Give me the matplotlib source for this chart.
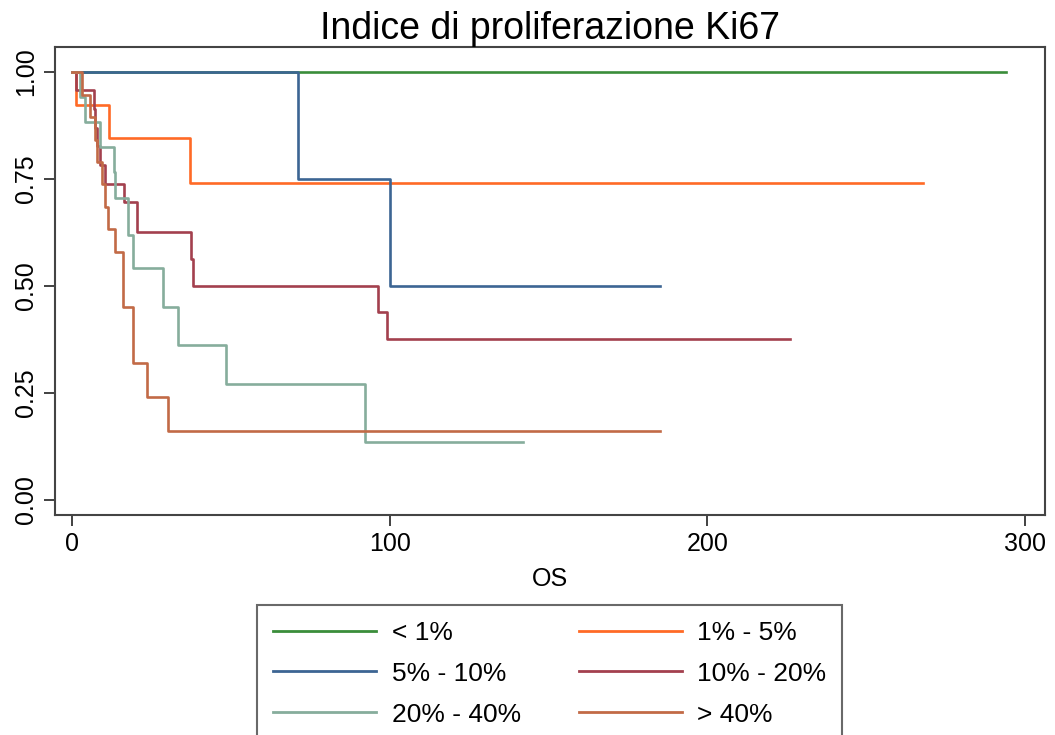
import matplotlib
matplotlib.use("Agg")
import matplotlib.pyplot as plt
from matplotlib.lines import Line2D

plt.rcParams['font.family'] = ['Liberation Sans', 'DejaVu Sans']

# Kaplan-Meier survival estimates by Ki67 proliferation class
labels = ["< 1%", "1% - 5%", "5% - 10%", "10% - 20%", "20% - 40%", "> 40%"]
colors = ["#3a8d3a", "#ff6a26", "#3c6593", "#a3404e", "#86ad9c", "#c26a46"]

t_lt1 = [0, 294]
s_lt1 = [1.0, 1.0]

t_1_5 = [0, 1.1, 11.4, 37, 268]
s_1_5 = [1.0, 0.923, 0.846, 0.740, 0.740]

t_5_10 = [0, 71, 100, 185]
s_5_10 = [1.0, 0.75, 0.50, 0.50]

t_10_20 = [0, 1.2, 6.7, 7.2, 7.7, 8.8, 10.3, 16.1, 20.3, 37.2, 38.0, 96.2, 99.0, 226]
s_10_20 = [1.0, 0.957, 0.913, 0.870, 0.826, 0.783, 0.739, 0.696, 0.626,
           0.563, 0.501, 0.438, 0.375, 0.375]

t_20_40 = [0, 2.4, 3.9, 8.7, 13.2, 13.4, 17.6, 19.2, 28.4, 33.3, 48.3, 92.1, 142]
s_20_40 = [1.0, 0.941, 0.882, 0.824, 0.765, 0.706, 0.618, 0.541, 0.451,
           0.361, 0.271, 0.135, 0.135]

t_gt40 = [0, 3.0, 5.5, 7.0, 7.7, 9.3, 10.2, 11.3, 13.4, 16.0, 19.1, 23.4, 30.2, 185]
s_gt40 = [1.0, 0.947, 0.895, 0.842, 0.789, 0.737, 0.684, 0.632, 0.579,
          0.450, 0.321, 0.241, 0.161, 0.161]

curves = [(t_lt1, s_lt1), (t_1_5, s_1_5), (t_5_10, s_5_10),
          (t_10_20, s_10_20), (t_20_40, s_20_40), (t_gt40, s_gt40)]

x_ticks = [0, 100, 200, 300]
y_ticks = [0.00, 0.25, 0.50, 0.75, 1.00]

fig = plt.figure(figsize=(10.55, 7.35), dpi=100)
ax = fig.add_axes([0.0521, 0.2993, 0.9384, 0.6367])

for (t, s), c in zip(curves, colors):
    ax.step(t, s, where="post", color=c, linewidth=1.9)

ax.set_xlim(-5.5, 306.3)
ax.set_ylim(-0.035, 1.058)
ax.set_xticks(x_ticks)
ax.set_xticklabels([str(v) for v in x_ticks])
ax.set_yticks(y_ticks)
ax.set_yticklabels([f"{v:.2f}" for v in y_ticks], rotation=90, va="center")
ax.tick_params(axis="both", labelsize=18, length=8, width=1.3, color="#333333", pad=4)

for sp in ax.spines.values():
    sp.set_color("#444444")
    sp.set_linewidth(1.5)

ax.set_title("Indice di proliferazione Ki67", fontsize=27, pad=3)
ax.set_xlabel("OS", fontsize=18, labelpad=8)

# legend laid out row by row: two columns, three rows
order = [0, 2, 4, 1, 3, 5]
handles = [Line2D([0], [0], color=colors[i], linewidth=2) for i in order]
leg = fig.legend(handles, [labels[i] for i in order], ncol=2,
                 loc="upper center", bbox_to_anchor=(0.521, 1 - 605 / 735),
                 borderaxespad=0.0,
                 fontsize=19, frameon=True, fancybox=False,
                 handlelength=3.9, handletextpad=0.6, columnspacing=2.2,
                 labelspacing=0.64, borderpad=0.6)
leg.get_frame().set_edgecolor("#444444")
leg.get_frame().set_linewidth(1.5)

fig.savefig("out.png", dpi=100)
